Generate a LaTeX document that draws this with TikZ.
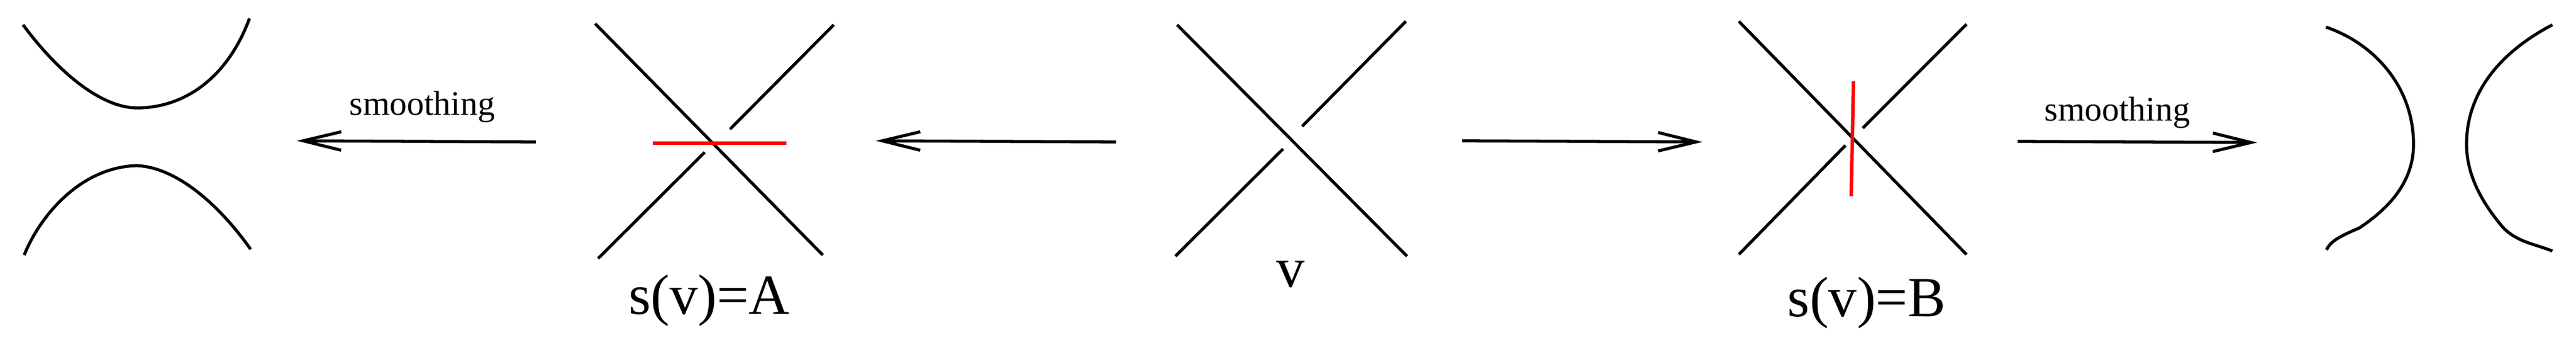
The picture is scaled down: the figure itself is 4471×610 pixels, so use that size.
\documentclass[tikz,border=0pt]{standalone}
\usepackage{fontspec}
\setmainfont{Liberation Serif}
\usepackage{tikz}
\usetikzlibrary{arrows.meta, positioning}
\tikzset{
Strand/.style={
	draw=black,
	line width=1.5pt
},
Marker/.style={
	draw=red,
	line width=1.7pt
},
Arrow/.style={
	draw=black,
	line width=1.5pt,
	-{Straight Barb[length=0.66cm, width=0.32cm, line width=1.5pt]}
},
Label/.style={
	anchor=base,
	inner sep=0pt,
	font=\fontsize{28}{34}\selectfont
},
ArrowLabel/.style={
	anchor=base,
	inner sep=0pt,
	font=\fontsize{17}{20}\selectfont
}
}

\begin{document}
\begin{tikzpicture}[x=0.01cm, y=-0.01cm]
	\useasboundingbox (0,0) rectangle (4471,610);

	% A-smoothing
	\draw[Strand] (40,43) .. controls (100,124) and (175,187) .. (238,187)
		.. controls (320,187) and (395,135) .. (433,32);
	\draw[Strand] (42,442) .. controls (70,373) and (140,290) .. (237,287)
		.. controls (310,290) and (385,361) .. (435,432);

	% crossing with A-marker
	\draw[Strand] (1033,41) -- (1428,442);
	\draw[Strand] (1267,224) -- (1447,43);
	\draw[Strand] (1223,264) -- (1038,448);
	\draw[Marker] (1133,248) -- (1365,248);
	\node[Label] (sA) at (1231,545) {s(v)=A};

	% crossing v
	\draw[Strand] (2043,43) -- (2442,444);
	\draw[Strand] (2260,219) -- (2440,37);
	\draw[Strand] (2227,258) -- (2040,444);
	\node[Label] (v) at (2240,498) {v};

	% crossing with B-marker
	\draw[Strand] (3018,37) -- (3413,441);
	\draw[Strand] (3233,222) -- (3413,42);
	\draw[Strand] (3203,252) -- (3018,441);
	\draw[Marker] (3217,141) -- (3213,340);
	\node[Label] (sB) at (3240,549) {s(v)=B};

	% B-smoothing
	\draw[Strand] (4037,47) .. controls (4120,75) and (4189,150) .. (4189,250)
		.. controls (4189,320) and (4140,365) .. (4095,395)
		.. controls (4060,410) and (4045,418) .. (4038,433);
	\draw[Strand] (4430,43) .. controls (4340,90) and (4281,160) .. (4281,250)
		.. controls (4281,310) and (4315,360) .. (4345,395)
		.. controls (4370,420) and (4400,423) .. (4430,435);

	% arrows
	\coordinate (a1s) at (930,246);
	\coordinate (a1e) at (515,244);
	\coordinate (a2s) at (1937,246);
	\coordinate (a2e) at (1520,244);
	\coordinate (a3s) at (2538,244);
	\coordinate (a3e) at (2955,246);
	\coordinate (a4s) at (3502,245);
	\coordinate (a4e) at (3918,247);
	\draw[Arrow] (a1s) -- (a1e);
	\draw[Arrow] (a2s) -- (a2e);
	\draw[Arrow] (a3s) -- (a3e);
	\draw[Arrow] (a4s) -- (a4e);

	\node[ArrowLabel] (smA) at (733,200) {smoothing};
	\node[ArrowLabel] (smB) at (3675,210) {smoothing};
\end{tikzpicture}
\end{document}
